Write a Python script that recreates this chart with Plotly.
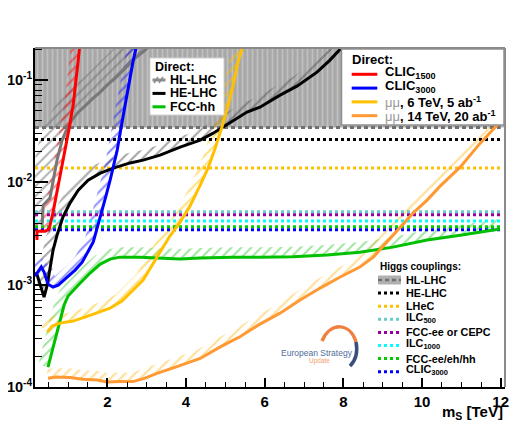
import numpy as np
import plotly.graph_objects as go

# ---------------- data ----------------
mass_max = 12.0  # TeV, end of Higgs-coupling lines

# Direct searches (m_S [TeV], sin^2 gamma)
hl_lhc_x = [0.34, 0.37, 0.54, 0.62, 0.72, 0.85, 0.98, 1.10, 1.26, 1.43, 1.61, 1.82, 2.02, 2.20, 2.45, 2.71, 2.96, 3.21]
hl_lhc_y = [0.00383, 0.0060, 0.00703, 0.0105, 0.0165, 0.0259, 0.034, 0.0406, 0.0486, 0.0557, 0.0652, 0.0764, 0.0914, 0.1047, 0.131, 0.164, 0.196, 0.246]

he_lhc_x = [0.19, 0.24, 0.32, 0.39, 0.47, 0.54, 0.62, 0.72, 0.87, 1.05, 1.26, 1.51, 1.82, 2.15, 2.58, 2.91, 3.34, 3.85, 4.36, 4.69, 4.94, 5.30, 5.55, 5.88, 6.39, 6.82, 7.33, 7.66, 7.92, 8.17]
he_lhc_y = [0.00133, 0.00116, 0.00093, 0.000757, 0.00099, 0.00145, 0.00218, 0.00305, 0.00458, 0.00628, 0.0084, 0.0105, 0.0123, 0.0138, 0.0155, 0.0165, 0.0185, 0.0221, 0.0259, 0.0303, 0.0347, 0.0426, 0.0487, 0.0544, 0.0713, 0.0873, 0.1197, 0.157, 0.201, 0.246]

fcc_hh_x = [0.49, 0.60, 0.70, 0.80, 0.90, 1.00, 1.13, 1.28, 1.56, 1.82, 2.07, 2.32, 2.83, 3.34, 3.85, 4.36, 5.20, 5.88, 6.72, 7.59, 8.42, 9.26, 10.13, 10.97, 11.98]
fcc_hh_y = [0.000156, 0.00023, 0.000329, 0.000472, 0.000633, 0.000775, 0.000886, 0.00101, 0.0013, 0.00159, 0.00178, 0.00186, 0.00186, 0.00182, 0.00178, 0.00182, 0.00186, 0.00186, 0.00188, 0.00195, 0.00208, 0.00233, 0.00273, 0.00305, 0.0035]

clic1500_x = [0.21, 0.21, 0.42, 0.52, 0.62, 0.72, 0.82, 0.93, 1.03, 1.13, 1.21, 1.26, 1.31]
clic1500_y = [0.00273, 0.00334, 0.00334, 0.0035, 0.00513, 0.00804, 0.0132, 0.0207, 0.034, 0.057, 0.1, 0.157, 0.246]

clic3000_x = [0.16, 0.24, 0.32, 0.39, 0.49, 0.62, 0.75, 0.95, 1.18, 1.36, 1.51, 1.64, 1.76, 1.87, 1.97, 2.07, 2.17, 2.25, 2.35, 2.45, 2.55, 2.65, 2.73, 2.81]
clic3000_y = [0.00121, 0.00133, 0.00149, 0.00133, 0.00101, 0.00095, 0.00099, 0.00116, 0.00139, 0.00166, 0.00208, 0.00261, 0.00383, 0.00536, 0.0075, 0.0105, 0.01475, 0.0207, 0.0347, 0.057, 0.0893, 0.150, 0.206, 0.308]

mumu6_x = [0.47, 0.60, 0.80, 1.13, 1.43, 1.74, 2.07, 2.37, 2.65, 2.91, 3.09, 3.34, 3.59, 3.85, 4.10, 4.36, 4.56, 4.74, 4.92, 5.07, 5.20, 5.32, 5.43, 5.50]
mumu6_y = [0.000344, 0.000394, 0.000421, 0.000441, 0.000482, 0.000527, 0.00059, 0.000692, 0.000886, 0.00111, 0.00145, 0.00208, 0.00299, 0.00409, 0.00586, 0.00942, 0.0138, 0.0216, 0.0355, 0.057, 0.0893, 0.150, 0.206, 0.275]

mumu14_x = [0.49, 0.70, 1.05, 1.38, 1.74, 1.99, 2.32, 2.65, 2.96, 3.26, 3.77, 4.36, 4.87, 5.37, 5.88, 6.39, 6.90, 7.41, 7.92, 8.42, 8.76, 9.11, 9.44, 9.77, 10.13, 10.46, 10.97, 11.48, 11.98]
mumu14_y = [0.000122, 0.000125, 0.000124, 0.000119, 0.000117, 0.000112, 0.000113, 0.000113, 0.000122, 0.000136, 0.000158, 0.000190, 0.000247, 0.00031, 0.000412, 0.000527, 0.000708, 0.000927, 0.00119, 0.00149, 0.00186, 0.00261, 0.00365, 0.00501, 0.00671, 0.0092, 0.0141, 0.0242, 0.0388]

# Higgs-coupling indirect limits
higgs_labels = ["HL-LHC", "HE-LHC", "LHeC", "ILC<sub>500</sub>", "FCC-ee or CEPC",
                "ILC<sub>1000</sub>", "FCC-ee/eh/hh", "CLIC<sub>3000</sub>"]
higgs_values = [0.0345, 0.0263, 0.0138, 0.00516, 0.00483, 0.00419, 0.00368, 0.00345]
higgs_colors = ["#707070", "#000000", "#ffc000", "#66cccc", "#990099", "#00ffff", "#00cc00", "#0000ff"]

# axis tick labels
x_ticks = [2, 4, 6, 8, 10, 12]
y_ticks = [1e-4, 1e-3, 1e-2, 1e-1]
y_ticktext = ["10<sup>-4</sup>", "10<sup>-3</sup>", "10<sup>-2</sup>", "10<sup>-1</sup>"]

# ---------------- geometry (window pixels; page body has an 8px margin) ----------------
OFF = 8
WIN_W, WIN_H = 519, 430
W, H = WIN_W - OFF, WIN_H - OFF
PL, PR, PT, PB = 35, 505, 48, 387          # plot area in window pixels
PW, PH = PR - PL, PB - PT
ML, MT = PL - OFF, PT - OFF
MR, MB = W - (PR - OFF), H - (PB - OFF)
X0, X1 = 0.16, 12.11
LY0, LY1 = -4.0, -0.686
SX = PW / (X1 - X0)
SY = PH / (LY1 - LY0)

FONT = "Liberation Sans, Arial, Helvetica, sans-serif"


def paper(px, py):
    return (px - PL) / PW, (PB - py) / PH


def band(xs, ys, width):
    """Hatched exclusion band on the upper/left side of a curve (pixel-space offset)."""
    u = (np.asarray(xs, float) - X0) * SX
    v = (np.log10(np.asarray(ys, float)) - LY0) * SY
    du = np.gradient(u)
    dv = np.gradient(v)
    n = np.hypot(du, dv)
    n[n == 0] = 1
    nu, nv = -dv / n, du / n
    u2, v2 = u + nu * width, v + nv * width
    uu = np.concatenate([u, u2[::-1], u[:1]])
    vv = np.concatenate([v, v2[::-1], v[:1]])
    return uu / SX + X0, 10 ** (vv / SY + LY0)


fig = go.Figure()

# HL-LHC Higgs-coupling grey band
fig.add_trace(go.Scatter(
    x=[X0, X1, X1, X0, X0], y=[higgs_values[0], higgs_values[0], 1, 1, higgs_values[0]],
    mode="lines", line=dict(width=0), fill="toself", fillcolor="#ababab",
    fillpattern=dict(shape="|", fgcolor="#d8d8d8", bgcolor="#a8a8a8", size=5, solidity=0.35),
    hoverinfo="skip", showlegend=False))

curves = [
    (hl_lhc_x, hl_lhc_y, "#787878", "#6a6a6a", 22),
    (he_lhc_x, he_lhc_y, "#000000", "#505050", 10),
    (fcc_hh_x, fcc_hh_y, "#00c000", "#44cc44", 10),
    (clic1500_x, clic1500_y, "#ff0000", "#ff1010", 9),
    (clic3000_x, clic3000_y, "#0000ff", "#2020ff", 9),
    (mumu6_x, mumu6_y, "#ffc000", "#ffc000", 9),
    (mumu14_x, mumu14_y, "#ff9933", "#ffc030", 9),
]

# hatch bands
for xs, ys, col, hcol, wd in curves:
    bx, by = band(xs, ys, wd)
    fig.add_trace(go.Scatter(
        x=bx, y=by, mode="lines", line=dict(width=0), fill="toself",
        fillcolor="rgba(0,0,0,0)",
        fillpattern=dict(shape="/", fgcolor=hcol, bgcolor="rgba(0,0,0,0)", size=7, solidity=0.3),
        hoverinfo="skip", showlegend=False))

# Higgs coupling horizontal lines
for i, (lab, val, col) in enumerate(zip(higgs_labels, higgs_values, higgs_colors)):
    dash = "4px,3px" if i == 0 else "3px,3px"
    fig.add_trace(go.Scatter(x=[X0, mass_max], y=[val, val], mode="lines",
                             line=dict(color=col, width=3, dash=dash),
                             hoverinfo="skip", showlegend=False))

# direct-search curves
for xs, ys, col, hcol, wd in curves:
    fig.add_trace(go.Scatter(x=xs, y=ys, mode="lines", line=dict(color=col, width=3),
                             hoverinfo="skip", showlegend=False))

shapes = []
annotations = []


def line_px(x0, y0, x1, y1, color, width=3, dash=None):
    a, b = paper(x0, y0)
    c, d = paper(x1, y1)
    ln = dict(color=color, width=width)
    if dash:
        ln["dash"] = dash
    shapes.append(dict(type="line", xref="paper", yref="paper", x0=a, y0=b, x1=c, y1=d, line=ln))


def rect_px(x0, y0, x1, y1, fill, lcolor, lwidth):
    a, b = paper(x0, y1)
    c, d = paper(x1, y0)
    shapes.append(dict(type="rect", xref="paper", yref="paper", x0=a, y0=b, x1=c, y1=d,
                       fillcolor=fill, line=dict(color=lcolor, width=lwidth)))


def text_px(x, y, txt, size, color="black", anchor="left", weight="bold"):
    a, b = paper(x, y)
    annotations.append(dict(xref="paper", yref="paper", x=a, y=b, text=txt, showarrow=False,
                            xanchor=anchor, yanchor="middle",
                            font=dict(family=FONT, size=size, color=color, weight=weight)))


# frame top/right (grey)
line_px(PL, PT, PR, PT, "#8a8a8a", 2)
line_px(PR, PT, PR, PB, "#8a8a8a", 2)

# Legend 1 (Direct: HL-LHC, HE-LHC, FCC-hh)
rect_px(150, 58, 224, 115, "white", "#d0d0d0", 1)
text_px(153, 66.5, "Direct:", 12.5)
leg1 = [("HL-LHC", "#8c8c8c"), ("HE-LHC", "#000000"), ("FCC-hh", "#00c000")]
for k, (lab, col) in enumerate(leg1):
    yy = 80 + k * 13.4
    line_px(152.5, yy, 165.5, yy, col, 3)
    if k == 0:
        line_px(154, yy + 3, 158, yy - 3, "#8c8c8c", 1.5)
        line_px(159, yy + 3, 163, yy - 3, "#8c8c8c", 1.5)
    text_px(167.5, yy, lab, 12.5)

# Legend 2 (Direct: lepton colliders)
rect_px(341.5, 49, 504, 125, "white", "#909090", 1.5)
text_px(350, 59, "Direct:", 13)
leg2 = [("CLIC<sub>1500</sub>", "#ff0000"), ("CLIC<sub>3000</sub>", "#0000ff"),
        ("<span style='color:#9a9a9a;font-weight:normal'>μμ</span>, 6 TeV, 5 ab<sup>-1</sup>", "#ffc000"),
        ("<span style='color:#9a9a9a;font-weight:normal'>μμ</span>, 14 TeV, 20 ab<sup>-1</sup>", "#ff9933")]
for k, (lab, col) in enumerate(leg2):
    yy = 74.3 + k * 13.8
    line_px(351.7, yy, 377.3, yy, col, 3)
    text_px(383, yy - (2 if "sub" in lab else 0), lab, 13)

# Legend 3 (Higgs couplings)
text_px(378, 266.7, "Higgs couplings:", 10)
for k, (lab, col) in enumerate(zip(higgs_labels, higgs_colors)):
    yy = 280 + k * 13.1
    if k == 0:
        rect_px(378, yy - 4.5, 401, yy + 4.5, "#b0b0b0", "#b0b0b0", 0)
        line_px(378, yy, 401, yy, "#707070", 2.5, "4px,3px")
    else:
        line_px(378, yy, 401, yy, col, 3, "3px,3px")
    text_px(404, yy - (1.5 if "sub" in lab else 0), lab, 10.8)

# European Strategy logo
def cpath(pts):
    (a, b), (c, d), (e, f), (g, h) = [paper(*p) for p in pts]
    return f"M {a},{b} C {c},{d} {e},{f} {g},{h}"

shapes.append(dict(type="path", xref="paper", yref="paper",
                   path=cpath([(322, 341), (330, 322), (350, 322), (356, 342)]),
                   line=dict(color="#f08040", width=3.5)))
shapes.append(dict(type="path", xref="paper", yref="paper",
                   path=cpath([(356, 342), (358, 352), (356, 360), (350, 366)]),
                   line=dict(color="#3a4f7a", width=3.5)))
text_px(316.5, 352.7, "European Strategy", 8.5, "#4f6c9c", "center", "normal")
text_px(319.5, 360.8, "Update", 6.5, "#f4a070", "center", "normal")

# x-axis title
text_px(505, 412, "m<sub>S</sub> [TeV]", 15, "black", "right")

minor_y = [k * 10.0 ** e for e in range(-4, 0) for k in range(2, 10) if k * 10.0 ** e < 10 ** LY1]

fig.update_layout(
    width=W, height=H,
    margin=dict(l=ML, r=MR, t=MT, b=MB, pad=0, autoexpand=False),
    paper_bgcolor="white", plot_bgcolor="white",
    showlegend=False,
    font=dict(family=FONT, color="black", weight="bold"),
    shapes=shapes, annotations=annotations,
    xaxis=dict(range=[X0, X1], showgrid=False, zeroline=False, automargin=False,
               showline=True, linecolor="black", linewidth=2,
               tickmode="array", tickvals=x_ticks,
               ticks="inside", ticklen=9, tickwidth=1.5, tickcolor="black",
               tickfont=dict(size=15, family=FONT, weight="bold"),
               minor=dict(tickmode="linear", tick0=0, dtick=0.5, ticks="inside",
                          ticklen=5, tickwidth=1.2, tickcolor="black", showgrid=False)),
    yaxis=dict(type="log", range=[LY0, LY1], showgrid=False, zeroline=False, automargin=False,
               showline=True, linecolor="black", linewidth=2,
               tickmode="array", tickvals=y_ticks, ticktext=y_ticktext,
               ticklabelstandoff=-2,
               ticks="inside", ticklen=13, tickwidth=1.5, tickcolor="black",
               tickfont=dict(size=14.5, family=FONT, weight="bold"),
               minor=dict(tickmode="array", tickvals=minor_y, ticks="inside",
                          ticklen=7, tickwidth=1.2, tickcolor="black", showgrid=False)),
)

fig.write_html("out.html")
